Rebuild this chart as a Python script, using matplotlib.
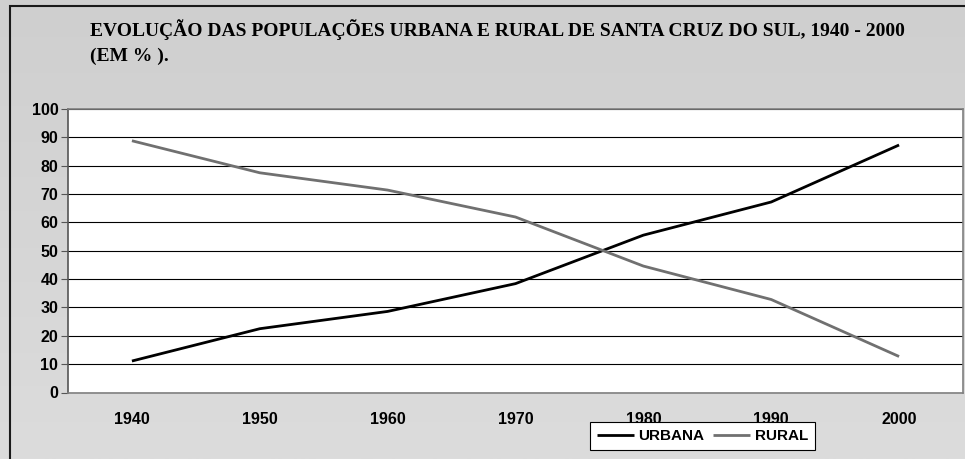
import numpy as np
import matplotlib.pyplot as plt
from matplotlib.patches import Rectangle

# dados (%)
anos = ['1940', '1950', '1960', '1970', '1980', '1990', '2000']
urbana = [11.1, 22.5, 28.6, 38.4, 55.5, 67.2, 87.3]
rural = [88.8, 77.5, 71.4, 61.9, 44.6, 32.8, 12.7]
yticks = list(range(0, 101, 10))

titulo = "EVOLUÇÃO DAS POPULAÇÕES URBANA E RURAL DE SANTA CRUZ DO SUL, 1940 - 2000\n(EM % )."

fig = plt.figure(figsize=(9.65, 4.59), dpi=100)

# fundo cinza em degradê
bg = fig.add_axes([0, 0, 1, 1], zorder=-10)
grad = np.linspace(0, 1, 200)[:, None]
bg.imshow(grad, aspect='auto', cmap=plt.matplotlib.colors.LinearSegmentedColormap.from_list(
    'g', ['#cfcfcf', '#dcdcdc']), extent=[0, 1, 0, 1])
bg.set_xlim(0, 1)
bg.set_ylim(0, 1)
bg.axis('off')
# moldura (só borda esquerda e superior visíveis)
bg.add_patch(Rectangle((10 / 965, -0.1), 1.2, 1 - 6 / 459 + 0.1, fill=False,
                       edgecolor='#1a1a1a', linewidth=1.5, transform=bg.transAxes))

fig.text(90 / 965, 1 - 19 / 459, titulo, ha='left', va='top', family='Liberation Serif',
         fontweight='bold', fontsize=14, linespacing=1.6, color='#000000')

ax = fig.add_axes([68 / 965, 66.5 / 459, 895 / 965, 283.5 / 459])
x = np.arange(len(anos))
ax.plot(x, urbana, color='#000000', linewidth=2.0, label='URBANA', solid_capstyle='butt')
ax.plot(x, rural, color='#707070', linewidth=2.0, label='RURAL', solid_capstyle='butt')

ax.set_xlim(-0.5, len(anos) - 0.5)
ax.set_ylim(0, 100)
ax.set_yticks(yticks)
ax.set_xticks(x)
ax.set_xticklabels(anos)
ax.grid(axis='y', color='#000000', linewidth=0.8)
ax.set_axisbelow(True)
for s in ax.spines.values():
    s.set_color('#808080')
    s.set_linewidth(1.2)
ax.spines['left'].set_color('#555555')
ax.tick_params(axis='y', length=5, color='#555555', pad=2)
ax.tick_params(axis='x', length=0, pad=14)
for lab in ax.get_xticklabels() + ax.get_yticklabels():
    lab.set_family('Liberation Sans')
    lab.set_fontweight('bold')
    lab.set_fontsize(11.5)

leg = ax.legend(loc='upper left', bbox_to_anchor=(590 / 965, 1 - 422 / 459), bbox_transform=fig.transFigure,
                ncol=2, frameon=True, fancybox=False, edgecolor='#000000', framealpha=1,
                prop={'family': 'Liberation Sans', 'weight': 'bold', 'size': 11},
                handlelength=2.4, handletextpad=0.3, columnspacing=0.6, borderpad=0.45,
                borderaxespad=0)
leg.get_frame().set_linewidth(0.8)

fig.savefig('out.png', dpi=100)
